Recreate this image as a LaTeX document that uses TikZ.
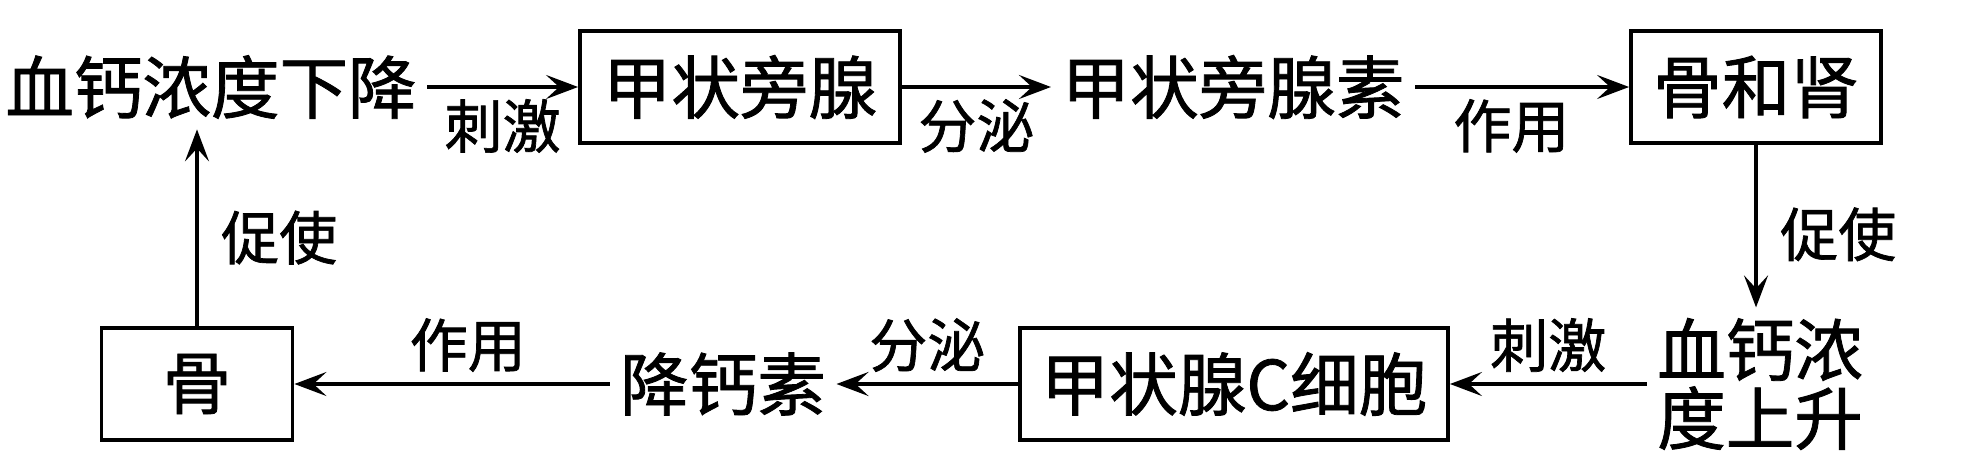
\documentclass[tikz,border=0pt]{standalone}
\usepackage{fontspec}
\setmainfont{Noto Sans CJK SC}[FakeBold=1.2]
\usepackage{tikz}
\usetikzlibrary{arrows.meta, positioning, calc}

\newcommand{\nodefont}{\fontsize{19.5pt}{19.5pt}\selectfont}
\newcommand{\labfont}{\fontsize{16.5pt}{16.5pt}\selectfont}

\begin{document}
\begin{tikzpicture}[
    box/.style={
        rectangle,
        draw=black,
        line width=1.1pt,
        minimum height=1.12cm,
        inner sep=0pt,
        font=\nodefont
    },
    plain/.style={
        inner sep=1mm,
        font=\nodefont
    },
    tag/.style={
        inner sep=1pt,
        font=\labfont
    },
    arrow/.style={
        -{Stealth[length=3.2mm, width=2.4mm, inset=1.3mm]},
        line width=1pt
    }
]
\useasboundingbox (0,0) rectangle (19.61,4.70);

% Top row
\node[plain] (drop) at (2.11,3.83) {血钙浓度下降};
\node[box, minimum width=3.20cm] (pth_gland) at (7.40,3.83) {甲状旁腺};
\node[plain] (pth) at (12.33,3.83) {甲状旁腺素};
\node[box, minimum width=2.50cm] (bone_kidney) at (17.56,3.83) {骨和肾};

% Right side
\node[plain, align=center] (rise) at (17.60,0.86) {血钙浓\\度上升};

% Bottom row
\node[box, minimum width=4.28cm] (c_cell) at (12.34,0.86) {甲状腺C细胞};
\node[plain] (ct) at (7.23,0.86) {降钙素};
\node[box, minimum width=1.91cm] (bone) at (1.97,0.86) {骨};

% Arrows
\draw[arrow] (drop) -- (pth_gland);
\draw[arrow] (pth_gland) -- (pth);
\draw[arrow] (pth) -- (bone_kidney);
\draw[arrow] (bone_kidney.south) -- (bone_kidney.south |- rise.north);
\draw[arrow] (rise.west |- c_cell) -- (c_cell);
\draw[arrow] (c_cell) -- (ct);
\draw[arrow] (ct) -- (bone);
\draw[arrow] (bone.north) -- (bone.north |- drop.south);

% Arrow labels
\node[tag, below=0.08cm of $(drop.east)!0.5!(pth_gland.west)$] (stim_top) {刺激};
\node[tag, below=0.08cm of $(pth_gland.east)!0.5!(pth.west)$] (secr_top) {分泌};
\node[tag, below=0.08cm of $(pth.east)!0.45!(bone_kidney.west)$] (act_top) {作用};
\node[tag, right=0.2cm of $(bone_kidney.south)!0.55!(bone_kidney.south |- rise.north)$] (prom_right) {促使};
\node[tag, above=0.08cm of $(rise.west |- c_cell)!0.5!(c_cell.east)$] (stim_bot) {刺激};
\node[tag, above=0.08cm of $(c_cell.west)!0.5!(ct.east)$] (secr_bot) {分泌};
\node[tag, above=0.08cm of $(ct.west)!0.45!(bone.east)$] (act_bot) {作用};
\node[tag, right=0.2cm of $(bone.north)!0.45!(bone.north |- drop.south)$] (prom_left) {促使};

\end{tikzpicture}
\end{document}
